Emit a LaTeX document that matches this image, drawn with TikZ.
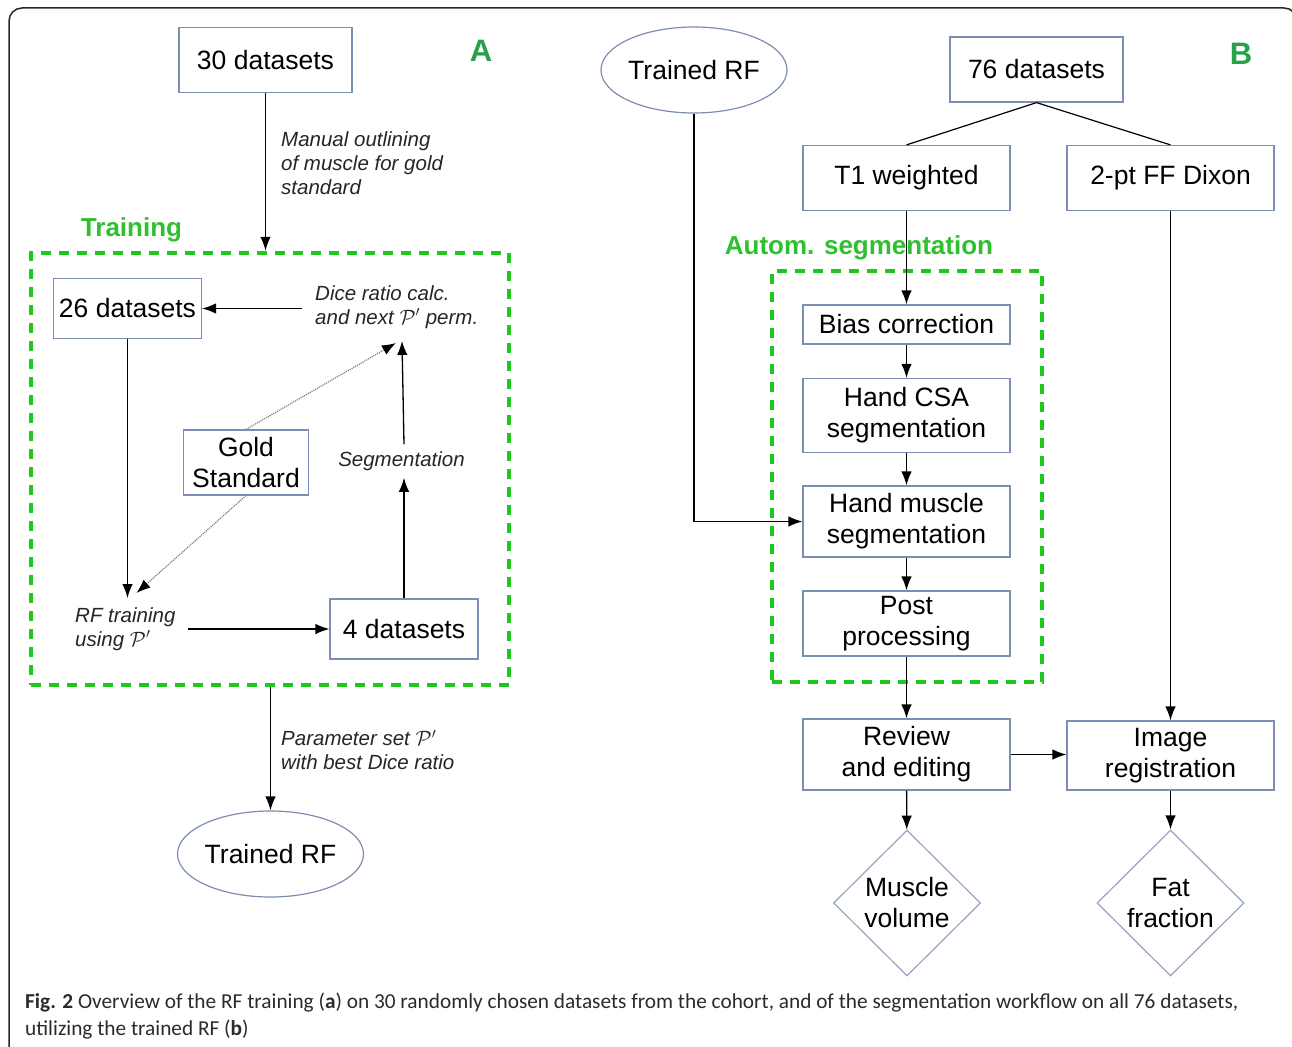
\documentclass[tikz,border=0pt]{standalone}
\usepackage{fontspec}
\setmainfont{Liberation Sans}
\newfontfamily\capfont{Carlito}
\usepackage{xcolor}
\usepackage{tikz}
\usetikzlibrary{shapes,shapes.geometric}
\usetikzlibrary{calc,arrows.meta,positioning}
\definecolor{boxedge}{HTML}{7D8DB3}
\definecolor{dashgreen}{HTML}{1EC81E}
\definecolor{titlegreen}{HTML}{2EC02E}
\definecolor{lettergreen}{HTML}{26A24A}
\definecolor{captext}{HTML}{2B2B2B}
\tikzset{
  box/.style={rectangle, draw=boxedge, line width=1.2pt, fill=white, align=center, inner sep=0pt, font=\fontsize{26.5}{31}\selectfont},
  oval/.style={ellipse, draw=boxedge, line width=1.2pt, fill=white, minimum width=183pt, minimum height=86pt, inner sep=0pt, font=\fontsize{26.5}{31}\selectfont},
  result/.style={diamond, aspect=1, draw=boxedge!80, line width=1.2pt, fill=white, minimum width=147pt, minimum height=146pt, inner sep=0pt, align=center, font=\fontsize{26.5}{31}\selectfont},
  note/.style={align=left, inner sep=0pt, font=\fontsize{20.5}{24}\selectfont\itshape, text=black!85},
  flow/.style={-{Latex[length=14pt,width=10.5pt]}, line width=1.3pt},
  hint/.style={-{Latex[length=14pt,width=10.5pt,color=black]}, line width=1.1pt, densely dotted, draw=black!55},
  group/.style={rectangle, draw=dashgreen, line width=4.5pt, dash pattern=on 10pt off 8pt, inner sep=0pt},
  grouptitle/.style={text=titlegreen, inner sep=0pt, font=\fontsize{26}{30}\selectfont\bfseries},
  panel/.style={text=lettergreen, inner sep=0pt, font=\fontsize{31}{36}\selectfont\bfseries},
  caption/.style={anchor=base west, inner sep=0pt, text=captext, font=\capfont\fontsize{21.3}{27}\selectfont}
}

\begin{document}
\begin{tikzpicture}[x=1pt,y=-1pt]
  \clip (0,0) rectangle (1292,1046);
  \fill[white] (0,0) rectangle (1292,1046);
  % frame round the figure
  \draw[line width=1.5pt, draw=black!85, rounded corners=13pt] (9,1060) -- (9,8) -- (1297,8) -- (1297,1060);

  % A: training of the RF
  \node[panel] (labA) at (481,51) {A};
  \node[grouptitle] (trtitle) at (131.5,230) {Training};
  \node[group, minimum width=478pt, minimum height=432pt] (trbox) at (270,469) {};
  \node[box, minimum width=173pt, minimum height=65pt] (d30) at (265.5,60) {30 datasets};
  \node[note, anchor=west] (manual) at (281,163) {Manual outlining\\of muscle for gold\\standard};
  \node[box, minimum width=148pt, minimum height=60pt] (d26) at (127.5,308.5) {26 datasets};
  \node[note, anchor=west] (dice) at (315,307) {Dice ratio calc.\\and next $\mathcal{P}'$ perm.};
  \node[box, minimum width=125pt, minimum height=65pt] (gold) at (246,462.5) {Gold\\Standard};
  \node[note, inner sep=7pt] (seg) at (401.5,461) {Segmentation};
  \node[note, anchor=west] (rft) at (75,629) {RF training\\using $\mathcal{P}'$};
  \node[box, minimum width=148pt, minimum height=60pt] (d4) at (404,629) {4 datasets};
  \node[note, anchor=west] (param) at (281,750) {Parameter set $\mathcal{P}'$\\with best Dice ratio};
  \node[oval] (trA) at (270.5,854) {Trained RF};
  \coordinate (dicefoot) at (402,341);
  \coordinate (rfttop) at (127.5,598);

  \draw[flow] (d30.south) -- (d30.south |- trbox.north);
  \draw[flow, shorten <=13pt] (dice.west |- d26.east) -- (d26.east);
  \draw[flow] (d26.south) -- (rfttop);
  \draw[hint] (gold.north) -- ([xshift=-6pt,yshift=-2pt]dicefoot);
  \draw[hint] (gold.south) -- ([xshift=9pt,yshift=5pt]rfttop);
  \draw[flow] (d4.north) -- (d4.north |- seg.south);
  \draw[flow] (d4.north |- seg.north) -- (dicefoot);
  \draw[flow, shorten <=12pt] (rft.east |- d4.west) -- (d4.west);
  \draw[flow] (trA.north |- trbox.south) -- (trA.north);

  % B: segmentation workflow
  \node[panel] (labB) at (1241,54) {B};
  \node[grouptitle] (autotitle) at (859,248) {Autom. segmentation};
  \node[group, minimum width=270pt, minimum height=411pt] (autobox) at (907,476.5) {};
  \node[oval] (trB) at (694,70) {Trained RF};
  \node[box, minimum width=173pt, minimum height=65pt] (d76) at (1036.5,69.5) {76 datasets};
  \node[box, minimum width=207pt, minimum height=65pt] (t1) at (906.5,178) {T1 weighted};
  \node[box, minimum width=207pt, minimum height=65pt] (dixon) at (1170.5,178) {2-pt FF Dixon};
  \node[box, minimum width=207pt, minimum height=39pt] (bias) at (906.5,324.5) {Bias correction};
  \node[box, minimum width=207pt, minimum height=74pt] (csa) at (906.5,415.5) {Hand CSA\\segmentation};
  \node[box, minimum width=207pt, minimum height=71pt] (hms) at (906.5,521.5) {Hand muscle\\segmentation};
  \node[box, minimum width=207pt, minimum height=65pt] (post) at (906.5,623.5) {Post\\processing};
  \node[box, minimum width=207pt, minimum height=71pt] (review) at (906.5,754.5) {Review\\and editing};
  \node[box, minimum width=207pt, minimum height=69pt] (imreg) at (1170.5,755.5) {Image\\registration};
  \node[result] (mvol) at (907,903) {Muscle\\volume};
  \node[result] (ffrac) at (1170.5,903) {Fat\\fraction};

  \draw[line width=1.2pt] (d76.south) -- (t1.north);
  \draw[line width=1.2pt] (d76.south) -- (dixon.north);
  \draw[flow] (t1) -- (bias);
  \draw[flow] (bias) -- (csa);
  \draw[flow] (csa) -- (hms);
  \draw[flow] (hms) -- (post);
  \draw[flow] (post) -- (review);
  \draw[flow] (trB.south) |- (hms.west);
  \draw[flow] (dixon) -- (imreg);
  \draw[flow] (review.east) -- (review.east -| imreg.west);
  \draw[flow] (review) -- (mvol);
  \draw[flow] (imreg) -- (ffrac);

  % caption
  \node[caption] (cap1) at (25,1008)
    {\textbf{Fig. 2} Overview of the RF training (\textbf{a}) on 30 randomly chosen datasets from the cohort, and of the segmentation workflow on all 76 datasets,};
  \node[caption] (cap2) at (25,1035)
    {utilizing the trained RF (\textbf{b})};
\end{tikzpicture}
\end{document}
